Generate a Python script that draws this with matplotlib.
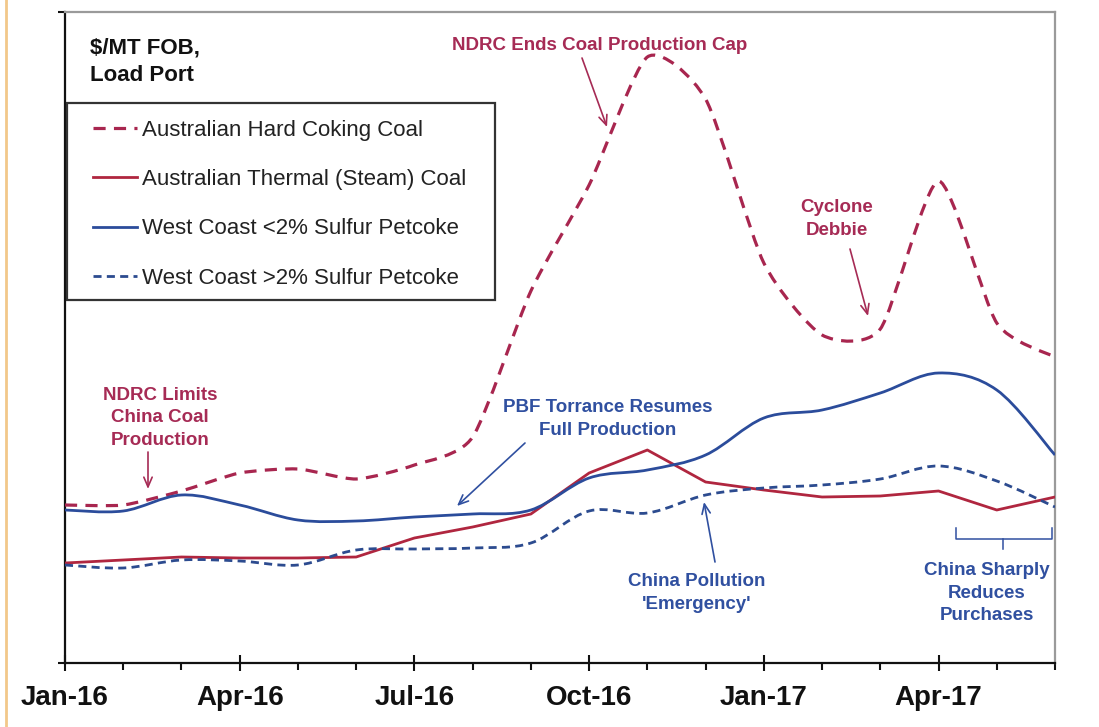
import numpy as np
import matplotlib
matplotlib.use('Agg')
import matplotlib.pyplot as plt
from matplotlib.path import Path
from matplotlib.patches import PathPatch, Rectangle
from matplotlib.lines import Line2D

# ---- data (monthly, Jan-16 .. Jun-17), $/MT FOB load port (approx.) ----
months = list(range(18))
month_names = ['Jan-16', 'Feb-16', 'Mar-16', 'Apr-16', 'May-16', 'Jun-16',
               'Jul-16', 'Aug-16', 'Sep-16', 'Oct-16', 'Nov-16', 'Dec-16',
               'Jan-17', 'Feb-17', 'Mar-17', 'Apr-17', 'May-17', 'Jun-17']
tick_pos = [0, 3, 6, 9, 12, 15]
tick_labels = ['Jan-16', 'Apr-16', 'Jul-16', 'Oct-16', 'Jan-17', 'Apr-17']

coking = [79, 79, 86, 95, 97, 92, 99, 113, 186, 239, 303, 282, 200, 164, 167, 241, 170, 153]
thermal = [50, 51.5, 53, 52.5, 52.5, 53, 62.5, 68, 74.5, 95, 106.5, 90.5, 86.5, 83, 83.5, 86, 76.5, 83]
pet_low = [76.5, 76, 84, 79, 71.5, 71, 73, 74.5, 76.5, 92.5, 96.5, 104, 122.5, 126.5, 135, 145, 136.5, 104]
pet_high = [49, 47.5, 51.5, 51, 49, 56.5, 57, 57.5, 60, 76, 75, 84, 87.5, 89, 92, 98.5, 91, 78]

labels = ['Australian Hard Coking Coal', 'Australian Thermal (Steam) Coal',
          'West Coast <2% Sulfur Petcoke', 'West Coast >2% Sulfur Petcoke']

RED_D = '#A8264F'
RED_S = '#B0263F'
BLUE_S = '#2B4C9B'
BLUE_D = '#2C4B8F'
TXT_RED = '#A62B55'
TXT_BLUE = '#3050A0'

plt.rcParams['font.family'] = ['Liberation Sans', 'DejaVu Sans']

W, H = 1099, 727
fig = plt.figure(figsize=(W / 100, H / 100), dpi=100)
fig.patch.set_facecolor('white')
ax = fig.add_axes([65 / W, 64 / H, 990 / W, 651 / H])
YMAX = 325.5
ax.set_xlim(0, 17)
ax.set_ylim(0, YMAX)


def smooth_path(x, y, k=6.0):
    pts = np.column_stack([x, y]).astype(float)
    n = len(pts)
    verts = [pts[0]]
    codes = [Path.MOVETO]
    for i in range(n - 1):
        p0 = pts[i - 1] if i > 0 else pts[i]
        p1 = pts[i]
        p2 = pts[i + 1]
        p3 = pts[i + 2] if i + 2 < n else pts[i + 1]
        c1 = p1 + (p2 - p0) / k
        c2 = p2 - (p3 - p1) / k
        verts += [c1, c2, p2]
        codes += [Path.CURVE4] * 3
    return Path(verts, codes)


ax.add_patch(PathPatch(smooth_path(months, coking, 9.0), fill=False, edgecolor=RED_D,
                       lw=2.3, linestyle=(0, (3.8, 2.6)), capstyle='butt', zorder=3))
ax.plot(months, thermal, color=RED_S, lw=2.0, solid_joinstyle='round', zorder=3)
ax.add_patch(PathPatch(smooth_path(months, pet_low), fill=False, edgecolor=BLUE_S,
                       lw=2.0, zorder=3))
ax.add_patch(PathPatch(smooth_path(months, pet_high), fill=False, edgecolor=BLUE_D,
                       lw=2.0, linestyle=(0, (2.9, 1.9)), zorder=3))

# spines & ticks
for s in ['left', 'bottom']:
    ax.spines[s].set_color('#111111')
    ax.spines[s].set_linewidth(1.6)
for s in ['top', 'right']:
    ax.spines[s].set_color('#9a9a9a')
    ax.spines[s].set_linewidth(1.6)

ax.set_xticks(tick_pos)
ax.set_xticklabels(tick_labels, fontsize=20, fontweight='bold', color='#111111')
ax.set_xticks(months, minor=True)
ax.tick_params(axis='x', which='major', direction='inout', length=12, width=1.5,
               color='#111111', pad=10)
ax.tick_params(axis='x', which='minor', direction='out', length=5, width=1.5,
               color='#111111')
ax.set_yticks([0, YMAX])
ax.set_yticklabels(['', ''])
ax.tick_params(axis='y', direction='out', length=5, width=1.5, color='#111111')

# legend (frame drawn separately for exact box size)
handles = [
    Line2D([], [], color=RED_D, lw=2.3, linestyle=(0, (3.8, 2.6))),
    Line2D([], [], color=RED_S, lw=2.0),
    Line2D([], [], color=BLUE_S, lw=2.0),
    Line2D([], [], color=BLUE_D, lw=2.0, linestyle=(0, (2.9, 1.9))),
]
leg = ax.legend(handles, labels, loc='upper left',
                bbox_to_anchor=(93 / W, 1 - 120 / H), bbox_transform=fig.transFigure,
                borderaxespad=0, fontsize=16, frameon=False,
                handlelength=2.0, handletextpad=0.22,
                labelspacing=1.27, borderpad=0)
leg.set_zorder(6)
for t in leg.get_texts():
    t.set_color('#222222')
ax.add_patch(Rectangle((67 / W, 1 - 300 / H), 428 / W, 197 / H,
                       transform=fig.transFigure, fill=True, facecolor='white',
                       edgecolor='#333333', lw=1.6, zorder=4, clip_on=False))


def fp(px, py):
    return (px, H - py)


fig.text(90 / W, 1 - 62 / H, '\\$/MT FOB,\nLoad Port', ha='left', va='center',
         fontsize=16, fontweight='bold', color='#111111', linespacing=1.38)


def note(text, pos, color):
    ax.annotate(text, xy=fp(*pos), xycoords='figure pixels', ha='center', va='center',
                fontsize=13.5, fontweight='bold', color=color, linespacing=1.4)


def arrow(tail, head, color):
    ax.annotate('', xy=fp(*head), xycoords='figure pixels', xytext=fp(*tail),
                textcoords='figure pixels',
                arrowprops=dict(arrowstyle='->,head_length=0.7,head_width=0.3',
                                color=color, lw=1.2, shrinkA=0, shrinkB=0))


note('NDRC Ends Coal Production Cap', (600, 45), TXT_RED)
arrow((582, 58), (607, 127), TXT_RED)

note('Cyclone\nDebbie', (837, 219), TXT_RED)
arrow((850, 249), (868, 316), TXT_RED)

note('NDRC Limits\nChina Coal\nProduction', (160, 418), TXT_RED)
arrow((148, 452), (148, 489), TXT_RED)

note('PBF Torrance Resumes\nFull Production', (608, 419), TXT_BLUE)
arrow((525, 443), (457, 506), TXT_BLUE)

note("China Pollution\n'Emergency'", (697, 593), TXT_BLUE)
arrow((715, 562), (704, 502), TXT_BLUE)

note('China Sharply\nReduces\nPurchases', (987, 593), TXT_BLUE)
# bracket
bx = [956, 956, 1052, 1052]
by = [528, 539, 539, 528]
fig.add_artist(Line2D([x / W for x in bx], [1 - y / H for y in by],
                      transform=fig.transFigure, color=TXT_BLUE, lw=1.1))
fig.add_artist(Line2D([1003 / W, 1003 / W], [1 - 539 / H, 1 - 549 / H],
                      transform=fig.transFigure, color=TXT_BLUE, lw=1.1))

# tan page edge
fig.add_artist(Line2D([6 / W, 6 / W], [0, 1], transform=fig.transFigure,
                      color='#F2C88A', lw=2))

fig.savefig('out.png', dpi=100)
